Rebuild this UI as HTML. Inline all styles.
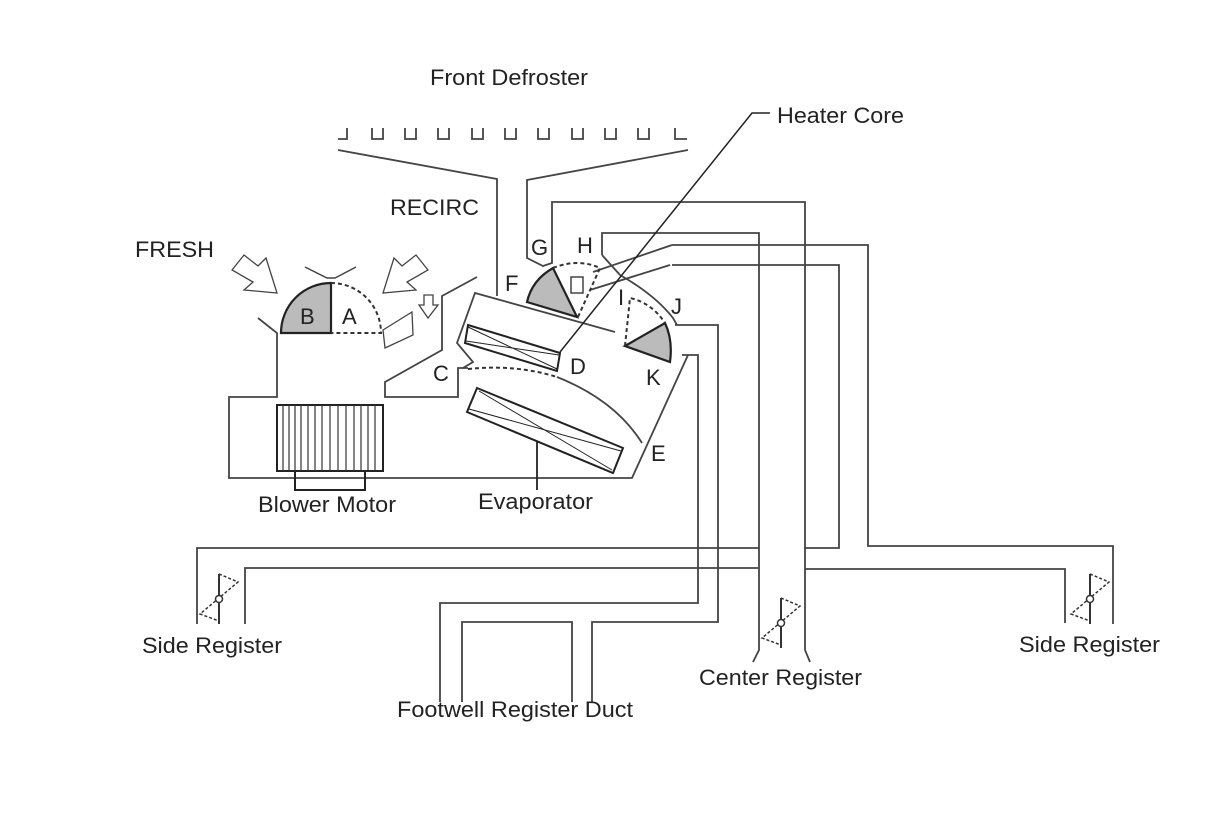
<!DOCTYPE html>
<html><head><meta charset="utf-8"><style>
html,body{margin:0;padding:0;background:#fff;}
svg{display:block;}
text{font-family:"Liberation Sans",sans-serif;font-size:22px;fill:#222;}
</style></head><body>
<svg width="1210" height="814" viewBox="0 0 1210 814" xmlns="http://www.w3.org/2000/svg">
<defs>
<g id="reg">
<line x1="0" y1="-25" x2="0" y2="25" stroke="#333" stroke-width="2"/>
<polyline points="0,-25 19,-17 -19,15 0,22" fill="none" stroke="#333" stroke-width="1.5" stroke-dasharray="3,2"/>
<circle cx="0" cy="0" r="3.5" fill="#fff" stroke="#333" stroke-width="1.5"/>
</g>
</defs>
<g fill="none" stroke="#444" stroke-width="1.8" stroke-linejoin="miter">
<polyline points="338,139 347,139 347,128"/>
<polyline points="372,128 372,139 383,139 383,128"/>
<polyline points="405,128 405,139 416,139 416,128"/>
<polyline points="438,128 438,139 449,139 449,128"/>
<polyline points="472,128 472,139 483,139 483,128"/>
<polyline points="505,128 505,139 516,139 516,128"/>
<polyline points="538,128 538,139 549,139 549,128"/>
<polyline points="572,128 572,139 583,139 583,128"/>
<polyline points="605,128 605,139 616,139 616,128"/>
<polyline points="638,128 638,139 649,139 649,128"/>
<polyline points="675,128 675,139 687,139"/>
<polyline points="338,150 497,179 497,296"/>
<polyline points="688,150 527,180 527,258 543,266 552,263 552,202 805,202 805,548 839,548 839,265 672,265"/>
<polyline points="602,255 602,233 759,233 759,650 753,662"/>
<polyline points="805,568 805,650 810,662"/>
<line x1="805" y1="548" x2="805" y2="568"/>
<polyline points="672,245 868,245 868,546 1113,546 1113,624"/>
<polyline points="805,569 1065,569 1065,623"/>
<polyline points="759,548 197,548 197,624"/>
<polyline points="759,568 245,568 245,624"/>
<polyline points="682,355 698,355 698,603 440,603 440,702"/>
<polyline points="675,325 718,325 718,622 592,622 592,702"/>
<polyline points="462,702 462,622 572,622 572,702"/>
<polyline points="602,255 620,275"/>
<path d="M620,275 Q655,295 673,318 L677,325"/>
<line x1="593" y1="272" x2="672" y2="245"/>
<line x1="590" y1="290" x2="670" y2="265"/>
<polyline points="258,318 277,333 277,397 229,397 229,478 632,478 688,355"/>
<polyline points="477,277 442,296 442,350 385,382 385,397 458,397 458,368 468,368"/>
<polyline points="615,332 475,293 457,343 473,362 463,368"/>
<path d="M557,377 Q615,400 642,443"/>
</g>
<path d="M468,369 Q515,364 557,377" fill="none" stroke="#333" stroke-width="2" stroke-dasharray="4,3"/>
<g fill="none" stroke="#222" stroke-width="2">
<polygon points="468,325 560,353 557,371 465,343"/>
<line x1="468" y1="327" x2="557" y2="369" stroke-width="1"/>
<line x1="466" y1="341" x2="559" y2="355" stroke-width="1"/>
<polygon points="477,388 623,448 613,473 467,412"/>
<line x1="479" y1="391" x2="612" y2="470" stroke-width="1"/>
<line x1="469" y1="409" x2="621" y2="451" stroke-width="1"/>
<line x1="537" y1="442" x2="537" y2="490" stroke-width="1.8"/>
<polyline points="560,352 752,113 770,113" stroke-width="1.5"/>
<rect x="277" y="405" width="106" height="66"/>
<rect x="295" y="471" width="70" height="19"/>
</g>
<g stroke="#333" stroke-width="1.2">
<line x1="283" y1="405" x2="283" y2="471"/><line x1="289" y1="405" x2="289" y2="471"/>
<line x1="295" y1="405" x2="295" y2="471"/><line x1="301" y1="405" x2="301" y2="471"/>
<line x1="308" y1="405" x2="308" y2="471"/><line x1="315" y1="405" x2="315" y2="471"/>
<line x1="322" y1="405" x2="322" y2="471"/><line x1="330" y1="405" x2="330" y2="471"/>
<line x1="338" y1="405" x2="338" y2="471"/><line x1="346" y1="405" x2="346" y2="471"/>
<line x1="354" y1="405" x2="354" y2="471"/><line x1="361" y1="405" x2="361" y2="471"/>
<line x1="368" y1="405" x2="368" y2="471"/><line x1="375" y1="405" x2="375" y2="471"/>
</g>
<path d="M281,333 A50,50 0 0 1 331,283 L331,333 Z" fill="#bbb" stroke="#222" stroke-width="2.2"/>
<path d="M331,283 A50,50 0 0 1 381,333 L331,333" fill="none" stroke="#333" stroke-width="2" stroke-dasharray="4,3"/>
<polyline points="305,267 327,278 335,278 356,267" fill="none" stroke="#444" stroke-width="1.5"/>
<g fill="#fff" stroke="#444" stroke-width="1.3">
<polygon points="232,270 244,255 258,266 266,258 277,293 244,290 253,282"/>
<polygon points="428,270 416,255 402,266 394,258 383,293 416,290 407,282"/>
<polygon points="424,295 433,295 433,305 438,305 428,318 419,305 424,305"/>
<polygon points="383,330 412,312 413,335 385,348"/>
</g>
<path d="M577,317 L553,268 Q532,280 527,302 Z" fill="#bbb" stroke="#222" stroke-width="2.2"/>
<path d="M553,268 Q578,258 600,268 L578,317" fill="none" stroke="#333" stroke-width="2" stroke-dasharray="4,3"/>
<rect x="571" y="277" width="12" height="16" fill="#fff" stroke="#444" stroke-width="1.5"/>
<path d="M625,346 L665,323 Q673,340 670,362 Z" fill="#bbb" stroke="#222" stroke-width="2.2"/>
<path d="M625,346 L630,298 Q652,303 665,323" fill="none" stroke="#333" stroke-width="2" stroke-dasharray="4,3"/>
<use href="#reg" x="219" y="599"/>
<use href="#reg" x="781" y="623"/>
<use href="#reg" x="1090" y="599"/>
<text x="430" y="85" textLength="158" lengthAdjust="spacingAndGlyphs">Front Defroster</text>
<text x="777" y="123" textLength="127" lengthAdjust="spacingAndGlyphs">Heater Core</text>
<text x="390" y="215" textLength="89" lengthAdjust="spacingAndGlyphs">RECIRC</text>
<text x="135" y="257" textLength="79" lengthAdjust="spacingAndGlyphs">FRESH</text>
<text x="531" y="255">G</text>
<text x="577" y="253">H</text>
<text x="505" y="291">F</text>
<text x="618" y="305">I</text>
<text x="671" y="314">J</text>
<text x="300" y="324">B</text>
<text x="342" y="324">A</text>
<text x="570" y="374">D</text>
<text x="433" y="381">C</text>
<text x="646" y="385">K</text>
<text x="651" y="461">E</text>
<text x="258" y="512" textLength="138" lengthAdjust="spacingAndGlyphs">Blower Motor</text>
<text x="478" y="509" textLength="115" lengthAdjust="spacingAndGlyphs">Evaporator</text>
<text x="142" y="653" textLength="140" lengthAdjust="spacingAndGlyphs">Side Register</text>
<text x="397" y="717" textLength="236" lengthAdjust="spacingAndGlyphs">Footwell Register Duct</text>
<text x="699" y="685" textLength="163" lengthAdjust="spacingAndGlyphs">Center Register</text>
<text x="1019" y="652" textLength="141" lengthAdjust="spacingAndGlyphs">Side Register</text>
</svg>
</body></html>
